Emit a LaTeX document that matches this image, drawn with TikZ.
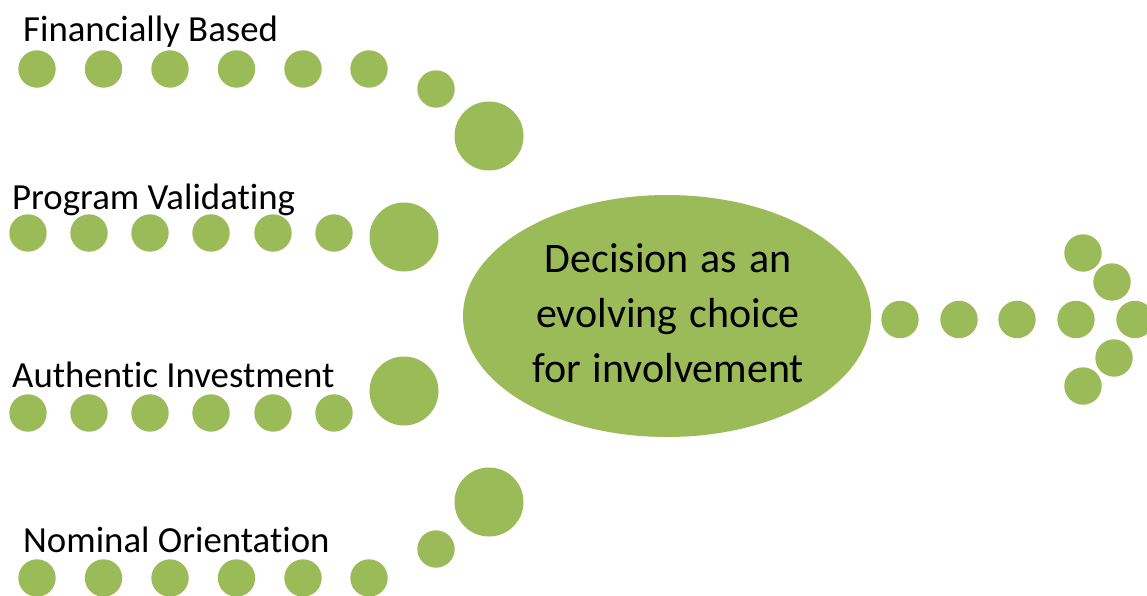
\documentclass[tikz,border=0pt]{standalone}
\usepackage{fontspec}
\setmainfont[Ligatures={NoCommon},RawFeature={-liga}]{Carlito}
\newfontfamily\hubfont[Ligatures={NoCommon},RawFeature={-liga},WordSpace=1.25]{Carlito}
\usetikzlibrary{shapes.geometric}
\definecolor{olive}{HTML}{9BBB59}
\begin{document}
\begin{tikzpicture}[x=1pt,y=-1pt,
  dot/.style={circle,fill=olive,draw=none,inner sep=0pt,minimum size=37.4pt},
  bigdot/.style={circle,fill=olive,draw=none,inner sep=0pt,minimum size=69pt},
  lbl/.style={anchor=base west,inner sep=0pt,font=\fontsize{36.8}{44}\selectfont},
  hub/.style={ellipse,fill=olive,draw=none,inner sep=0pt,minimum width=408pt,minimum height=242pt},
  hubtext/.style={align=center,inner sep=0pt,font=\hubfont\fontsize{42}{55}\selectfont}]
\useasboundingbox (0,0) rectangle (1147,596);

% central ellipse
\node[hub] (decision) at (667,316) {};
\node[hubtext] (decisiontext) at (668,313) {Decision as an\\evolving choice\\for involvement};

% labels
\node[lbl] (fb) at (23,42) {Financially Based};
\node[lbl] (pv) at (12,209) {Program Validating};
\node[lbl] (ai) at (12,387) {Authentic Investment};
\node[lbl] (no) at (23,552) {Nominal Orientation};

% top row: curving down towards the ellipse
\foreach \x [count=\i] in {37,103.5,170,236.5,303,369}
  \node[dot] (fb\i) at (\x,69) {};
\node[dot] (fb7) at (436,89) {};
\node[bigdot] (fb8) at (489,136) {};

% second row
\foreach \x [count=\i] in {28,89,150,211,273,334}
  \node[dot] (pv\i) at (\x,233) {};
\node[bigdot] (pv7) at (404,237) {};

% third row
\foreach \x [count=\i] in {28,89,150,211,273,334}
  \node[dot] (ai\i) at (\x,413) {};
\node[bigdot] (ai7) at (404,391) {};

% bottom row: curving up towards the ellipse
\foreach \x [count=\i] in {37,103.5,170,236.5,303,369}
  \node[dot] (no\i) at (\x,578) {};
\node[dot] (no7) at (436,549) {};
\node[bigdot] (no8) at (489,502) {};

% outgoing dotted arrow
\foreach \x [count=\i] in {900,959,1017,1076,1135}
  \node[dot] (out\i) at (\x,319.5) {};
\node[dot] (head1) at (1083,253) {};
\node[dot] (head2) at (1112,282) {};
\node[dot] (head3) at (1114,358) {};
\node[dot] (head4) at (1083,386) {};
\end{tikzpicture}
\end{document}
